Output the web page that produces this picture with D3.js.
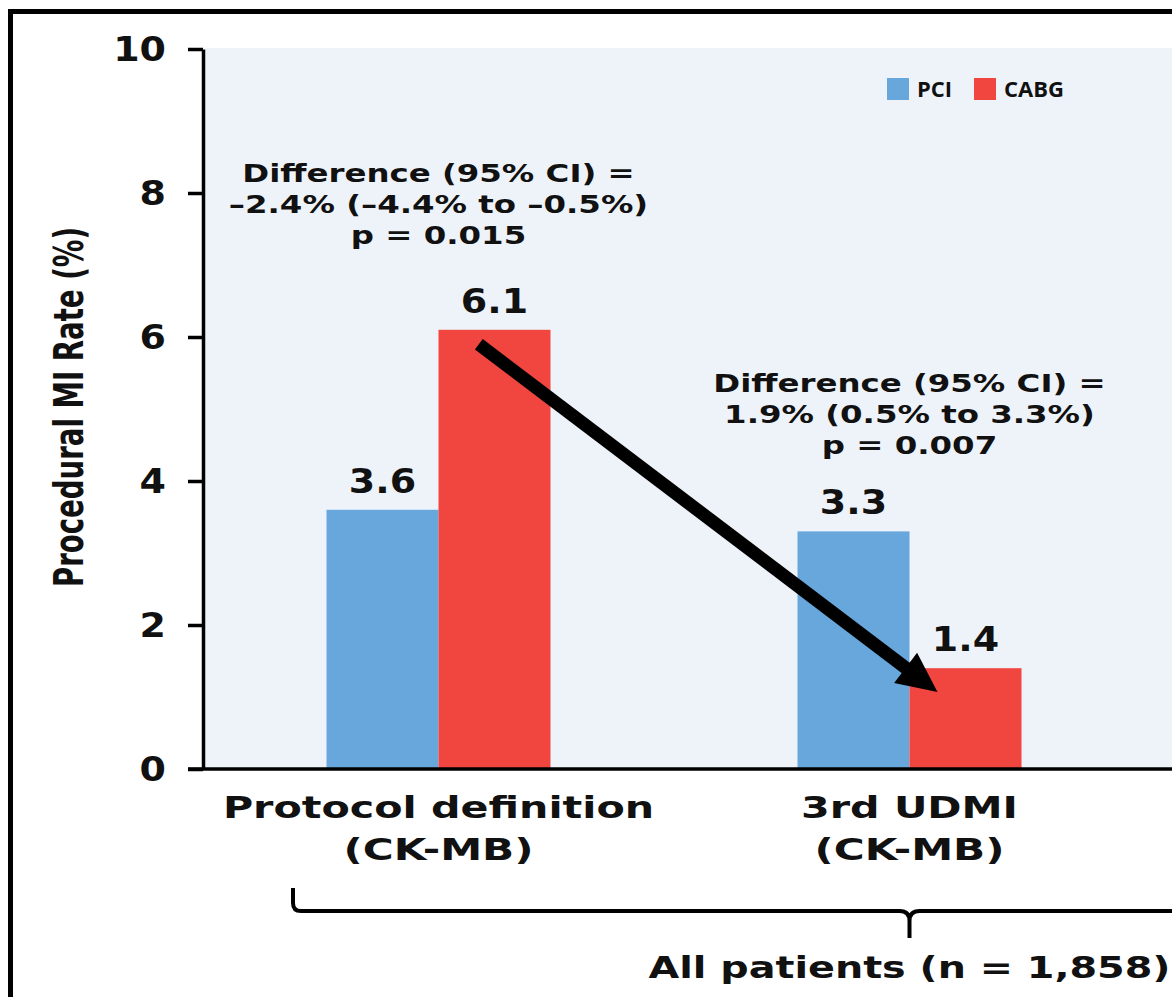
<!DOCTYPE html>
<html>
<head>
<meta charset="utf-8">
<script src="https://cdn.jsdelivr.net/npm/d3@7"></script>
<style>
  body { margin: 0; background: #fff; }
  svg text { font-family: "DejaVu Sans", Verdana, sans-serif; font-weight: bold; fill: #111; }
</style>
</head>
<body>
<svg id="chart" width="1172" height="997"></svg>
<script>
// Procedural MI rate by definition, PCI vs CABG
const categories = ["Protocol definition", "3rd UDMI"];
const categorySubLabels = ["(CK-MB)", "(CK-MB)"];
const seriesNames = ["PCI", "CABG"];
const pciValues = [3.6, 3.3];
const cabgValues = [6.1, 1.4];
const yTicks = [0, 2, 4, 6, 8, 10];
const differenceNotes = [
  ["Difference (95% CI) =", "–2.4% (–4.4% to –0.5%)", "p = 0.015"],
  ["Difference (95% CI) =", "1.9% (0.5% to 3.3%)", "p = 0.007"]
];
const groupLabel = "All patients (n = 1,858)";
const yLabel = "Procedural MI Rate (%)";

const colors = { PCI: "#68A7DC", CABG: "#F1463F" };
const plotBg = "#EEF3FA";

const svg = d3.select("#chart");
const W = 1172, H = 997;
const mLeft = 203, mTop = 49, mBottom = 769, mRight = 1145;

// widen a text run horizontally by a factor (the label face is an extended one)
function widen(sel, f) {
  sel.each(function () {
    const w = this.getComputedTextLength();
    d3.select(this).attr("textLength", w * f).attr("lengthAdjust", "spacingAndGlyphs");
  });
  return sel;
}

const y = d3.scaleLinear().domain([0, 10]).range([mBottom, mTop]);
const x0 = d3.scaleBand().domain(categories).range([mLeft, mRight]).padding(0);
const barW = 112;
const x1 = d3.scaleBand().domain(seriesNames)
  .range([x0.bandwidth() / 2 - barW, x0.bandwidth() / 2 + barW]).padding(0);

const rows = categories.map((c, i) => ({ cat: c, sub: categorySubLabels[i], PCI: pciValues[i], CABG: cabgValues[i], note: differenceNotes[i] }));

// outer frame
svg.append("rect").attr("x", 10.5).attr("y", 11.5).attr("width", 1300).attr("height", 1100)
  .attr("fill", "none").attr("stroke", "#000").attr("stroke-width", 5);

// plot area
svg.append("rect").attr("x", mLeft + 2).attr("y", mTop - 1).attr("width", W - mLeft).attr("height", mBottom - mTop + 1)
  .attr("fill", plotBg);

// bars
const groups = svg.append("g").selectAll("g").data(rows).join("g")
  .attr("transform", d => `translate(${x0(d.cat)},0)`);
groups.selectAll("rect").data(d => seriesNames.map(s => ({ s, v: d[s] }))).join("rect")
  .attr("x", d => x1(d.s)).attr("width", x1.bandwidth())
  .attr("y", d => y(d.v)).attr("height", d => mBottom - y(d.v))
  .attr("fill", d => colors[d.s]);
widen(groups.selectAll("text.val").data(d => seriesNames.map(s => ({ s, v: d[s] }))).join("text")
  .attr("class", "val")
  .attr("x", d => x1(d.s) + x1.bandwidth() / 2).attr("y", d => y(d.v) - 17)
  .attr("text-anchor", "middle").attr("font-size", 33)
  .text(d => d.v.toFixed(1)), 1.15);

// difference notes above each group
const noteY = [182, 392];
rows.forEach((d, i) => {
  const cx = x0(d.cat) + x0.bandwidth() / 2;
  d.note.forEach((line, k) => {
    widen(svg.append("text").attr("x", cx).attr("y", noteY[i] + k * 31)
      .attr("text-anchor", "middle").attr("font-size", 24).text(line), 1.35);
  });
});

// y axis
const yAxis = svg.append("g").attr("transform", `translate(${mLeft},0)`)
  .call(d3.axisLeft(y).tickValues(yTicks).tickSize(15).tickSizeOuter(0).tickPadding(22).tickFormat(d3.format("d")));
yAxis.select(".domain").attr("stroke", "#000").attr("stroke-width", 3.5);
yAxis.selectAll(".tick line").attr("stroke", "#000").attr("stroke-width", 3.5);
widen(yAxis.selectAll(".tick text").attr("font-size", 33).attr("font-family", "DejaVu Sans")
  .attr("font-weight", "bold").attr("fill", "#111").attr("dy", "0.36em"), 1.15);

// x baseline
svg.append("line").attr("x1", mLeft - 15).attr("x2", W).attr("y1", mBottom).attr("y2", mBottom)
  .attr("stroke", "#000").attr("stroke-width", 3.5);

// category labels
rows.forEach(d => {
  const cx = x0(d.cat) + x0.bandwidth() / 2;
  widen(svg.append("text").attr("x", cx).attr("y", 818).attr("text-anchor", "middle").attr("font-size", 31).text(d.cat), 1.33);
  widen(svg.append("text").attr("x", cx).attr("y", 860).attr("text-anchor", "middle").attr("font-size", 31).text(d.sub), 1.36);
});

// y axis title
svg.append("text")
  .attr("transform", `translate(83,407) rotate(-90)`)
  .attr("text-anchor", "middle")
  .attr("font-size", 40)
  .style("font-family", "'DejaVu Sans Condensed', 'DejaVu Sans', sans-serif")
  .style("font-stretch", "condensed")
  .attr("textLength", 360).attr("lengthAdjust", "spacingAndGlyphs")
  .text(yLabel);

// legend
const legend = svg.append("g").attr("transform", "translate(887,78)");
const legX = [0, 87];
seriesNames.forEach((s, i) => {
  legend.append("rect").attr("x", legX[i]).attr("y", 0).attr("width", 22).attr("height", 22).attr("fill", colors[s]);
  legend.append("text").attr("x", legX[i] + 30).attr("y", 19).attr("font-size", 22)
    .style("font-family", "'Open Sans', 'Noto Sans', sans-serif").attr("font-weight", 700).text(s);
});

// arrow from CABG (protocol) to CABG (3rd UDMI)
const arrowFrom = { cat: 0, series: "CABG", frac: 0.36, value: 5.9 };
const arrowTo = { cat: 1, series: "CABG", frac: 0.25, value: 1.07 };
const pt = a => [x0(categories[a.cat]) + x1(a.series) + a.frac * x1.bandwidth(), y(a.value)];
const [ax1, ay1] = pt(arrowFrom), [ax2, ay2] = pt(arrowTo);
const len = Math.hypot(ax2 - ax1, ay2 - ay1);
const ux = (ax2 - ax1) / len, uy = (ay2 - ay1) / len;
const headLen = 40, headHalf = 19;
const bx = ax2 - ux * headLen, by = ay2 - uy * headLen;
svg.append("line").attr("x1", ax1).attr("y1", ay1).attr("x2", bx + ux * 4).attr("y2", by + uy * 4)
  .attr("stroke", "#000").attr("stroke-width", 13);
svg.append("path")
  .attr("d", `M${ax2},${ay2} L${bx - uy * headHalf},${by + ux * headHalf} L${bx + uy * headHalf},${by - ux * headHalf} Z`)
  .attr("fill", "#000");

// brace spanning both groups
const braceY = 911, braceL = 293, braceMid = x0(categories[1]) + x0.bandwidth() / 2;
svg.append("path")
  .attr("d", `M${braceL},888 L${braceL},903 Q${braceL},${braceY} ${braceL + 8},${braceY} L${braceMid - 10},${braceY} Q${braceMid},${braceY} ${braceMid},${braceY + 10} L${braceMid},${braceY + 27} M${braceMid},${braceY + 10} Q${braceMid},${braceY} ${braceMid + 10},${braceY} L${W + 10},${braceY}`)
  .attr("fill", "none").attr("stroke", "#000").attr("stroke-width", 4);

widen(svg.append("text").attr("x", braceMid).attr("y", 978).attr("text-anchor", "middle").attr("font-size", 31).text(groupLabel), 1.28);
</script>
</body>
</html>
